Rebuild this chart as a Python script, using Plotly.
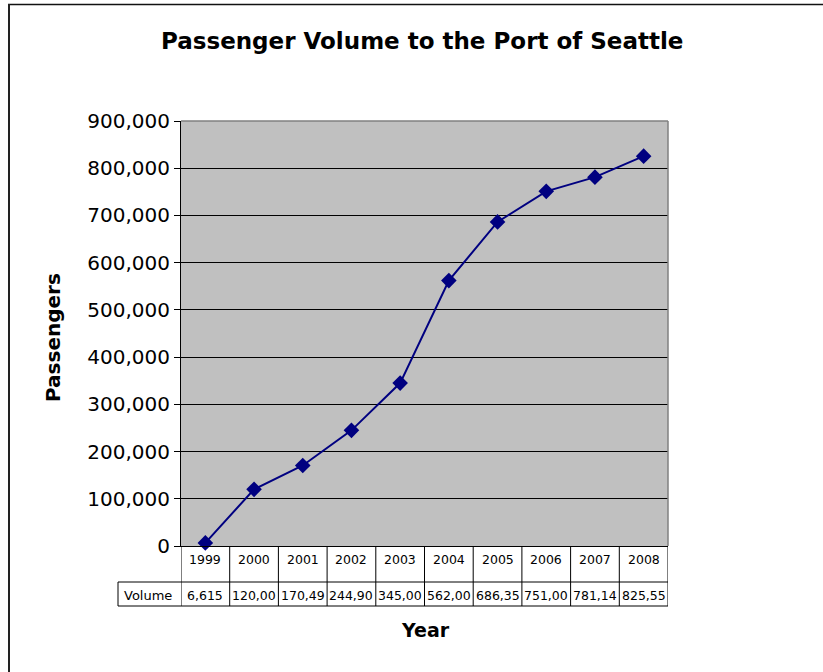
import plotly.graph_objects as go

# ---- data ----
years = ["1999", "2000", "2001", "2002", "2003", "2004", "2005", "2006", "2007", "2008"]
volumes = [6615, 120000, 170490, 244900, 345000, 562000, 686350, 751000, 781140, 825550]
y_tick_vals = [0, 100000, 200000, 300000, 400000, 500000, 600000, 700000, 800000, 900000]
y_tick_labels = ["0", "100,000", "200,000", "300,000", "400,000", "500,000",
                 "600,000", "700,000", "800,000", "900,000"]
title_text = "Passenger Volume to the Port of Seattle"
x_title = "Year"
y_title = "Passengers"
row_label = "Volume"

# table cells show the value clipped to the cell width (as in the source)
table_text = [f"{v:,}"[:6] for v in volumes]

# ---- layout geometry (page pixels) ----
W, H = 823, 672
L, R, T, B = 181, 668, 121, 546


def px(xp):
    return (xp - L) / (R - L)


def py(yp):
    return (B - yp) / (B - T)


FONT = "DejaVu Sans"
NAVY = "#000080"

xs = list(range(len(years)))

fig = go.Figure()
fig.add_trace(go.Scatter(
    x=xs, y=volumes, mode="lines+markers",
    line=dict(color=NAVY, width=2),
    marker=dict(symbol="diamond", size=12, color=NAVY),
    showlegend=False, hoverinfo="skip", cliponaxis=False,
))

shapes = []
# outer chart border (top and left edges visible)
shapes.append(dict(type="line", xref="paper", yref="paper",
                   x0=px(8), x1=px(830), y0=py(4.5), y1=py(4.5),
                   line=dict(color="#111111", width=1.5), layer="below"))
shapes.append(dict(type="line", xref="paper", yref="paper",
                   x0=px(9), x1=px(9), y0=py(4), y1=py(680),
                   line=dict(color="#222222", width=2), layer="below"))
# plot area top/right border (gray)
shapes.append(dict(type="line", xref="paper", yref="paper", x0=0, x1=1, y0=1, y1=1,
                   line=dict(color="#808080", width=1.5), layer="above"))
shapes.append(dict(type="line", xref="paper", yref="paper", x0=1, x1=1, y0=0, y1=1,
                   line=dict(color="#808080", width=1.5), layer="above"))
# data table grid
for i in range(len(years) + 1):
    xv = i - 0.5
    shapes.append(dict(type="line", xref="x", yref="paper", x0=xv, x1=xv,
                       y0=py(606), y1=py(546), line=dict(color="black", width=1)))
for yy in (582, 606):
    shapes.append(dict(type="line", xref="paper", yref="paper", x0=px(118), x1=1,
                       y0=py(yy), y1=py(yy), line=dict(color="black", width=1)))
shapes.append(dict(type="line", xref="paper", yref="paper", x0=px(118), x1=px(118),
                   y0=py(606), y1=py(582), line=dict(color="black", width=1)))

annotations = []
for i, (yr, tv) in enumerate(zip(years, table_text)):
    annotations.append(dict(x=i, y=py(559), xref="x", yref="paper", text=yr,
                            showarrow=False, xanchor="center", yanchor="middle",
                            font=dict(family=FONT, size=12.5, color="black")))
    annotations.append(dict(x=i, y=py(595), xref="x", yref="paper", text=tv,
                            showarrow=False, xanchor="center", yanchor="middle",
                            font=dict(family=FONT, size=12.5, color="black")))
annotations.append(dict(x=px(148), y=py(595), xref="paper", yref="paper", text=row_label,
                        showarrow=False, xanchor="center", yanchor="middle",
                        font=dict(family=FONT, size=13, color="black")))
annotations.append(dict(x=px(421.5), y=py(41), xref="paper", yref="paper",
                        text=f"<b>{title_text}</b>", showarrow=False,
                        xanchor="center", yanchor="middle",
                        font=dict(family=FONT, size=23, color="black")))
annotations.append(dict(x=px(425), y=py(630), xref="paper", yref="paper",
                        text=f"<b>{x_title}</b>", showarrow=False,
                        xanchor="center", yanchor="middle",
                        font=dict(family=FONT, size=19, color="black")))
annotations.append(dict(x=px(53), y=py(338), xref="paper", yref="paper",
                        text=f"<b>{y_title}</b>", showarrow=False, textangle=-90,
                        xanchor="center", yanchor="middle",
                        font=dict(family=FONT, size=20, color="black")))

fig.update_layout(
    width=W, height=H,
    margin=dict(l=L, r=W - R, t=T, b=H - B, pad=0),
    paper_bgcolor="white", plot_bgcolor="#C0C0C0",
    shapes=shapes, annotations=annotations,
    xaxis=dict(range=[-0.5, len(years) - 0.5], showticklabels=False, showgrid=False,
               zeroline=False, showline=True, linecolor="black", linewidth=1,
               ticks="", fixedrange=True),
    yaxis=dict(range=[0, 900000], tickvals=y_tick_vals, ticktext=y_tick_labels,
               showgrid=True, gridcolor="black", gridwidth=1, zeroline=False,
               showline=True, linecolor="black", linewidth=1,
               ticks="outside", ticklen=6, tickcolor="black",
               tickfont=dict(family=FONT, size=20, color="black"), fixedrange=True),
    showlegend=False,
)

fig.write_html("out.html", config={"displayModeBar": False},
               post_script="document.body.style.margin='0';document.body.style.overflow='hidden';")
